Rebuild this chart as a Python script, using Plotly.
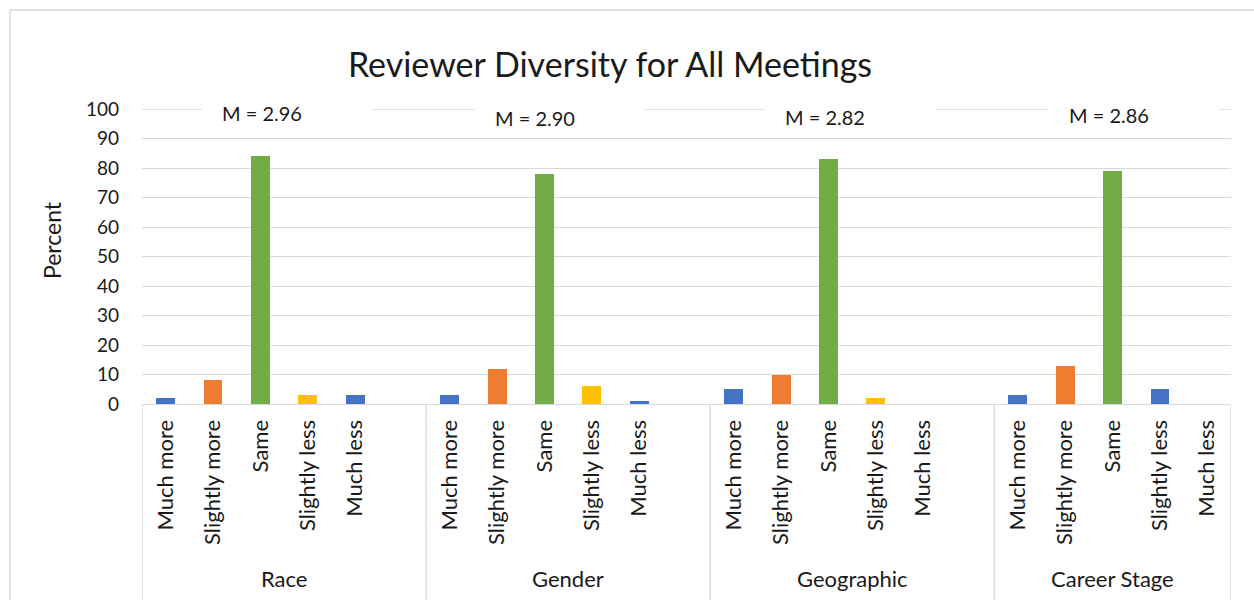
import plotly.graph_objects as go

groups = ["Race", "Gender", "Geographic", "Career Stage"]
responses = ["Much more", "Slightly more", "Same", "Slightly less", "Much less"]
race = [2, 8, 84, 3, 3]
gender = [3, 12, 78, 6, 1]
geographic = [5, 10, 83, 2, 0]
career = [3, 13, 79, 5, 0]
means = ["2.96", "2.90", "2.82", "2.86"]

series = [race, gender, geographic, career]

# style
BLUE, ORANGE, GREEN, YELLOW = "#4472C4", "#ED7D31", "#70AD47", "#FFC000"
group_colors = [
    [BLUE, ORANGE, GREEN, YELLOW, BLUE],
    [BLUE, ORANGE, GREEN, YELLOW, BLUE],
    [BLUE, ORANGE, GREEN, YELLOW, BLUE],
    [BLUE, ORANGE, GREEN, BLUE, BLUE],
]
FONT = "Lato, 'Open Sans', sans-serif"
TXT = "#1a1a1a"
GRID = "#D9D9D9"
SLOT = len(responses) + 1  # one blank slot between groups

xs, ys, cs, labels = [], [], [], []
for g, vals in enumerate(series):
    for i, v in enumerate(vals):
        xs.append(g * SLOT + i)
        ys.append(v)
        cs.append(group_colors[g][i])
        labels.append(responses[i])

n_last = (len(groups) - 1) * SLOT + len(responses)
x_min, x_max = -0.5, n_last - 0.5

fig = go.Figure()
fig.add_trace(go.Bar(x=xs, y=ys, marker=dict(color=cs, line=dict(width=0)), width=0.4,
                     hoverinfo="x+y"))

shapes = []
annotations = []
# group separators and labels
bounds = [x_min] + [g * SLOT + len(responses) - 0.5 + 1 for g in range(len(groups) - 1)] + [x_max]
for b in bounds:
    shapes.append(dict(type="line", xref="x", yref="paper", x0=b, x1=b, y0=0, y1=-0.72,
                       line=dict(color=GRID, width=1.3)))
for g, name in enumerate(groups):
    c = (bounds[g] + bounds[g + 1]) / 2
    annotations.append(dict(text=name, xref="x", yref="paper", x=c, y=-0.59,
                            showarrow=False, font=dict(family=FONT, size=22, color=TXT),
                            xanchor="center", yanchor="middle"))

# chart frame
shapes.append(dict(type="rect", xref="paper", yref="paper", x0=-0.1212, x1=1.3, y0=1.3356, y1=-1.2,
                   line=dict(color=GRID, width=1.5), fillcolor="rgba(0,0,0,0)", layer="above"))

# top gridline at 100 (drawn explicitly so it shows at the plot edge)
shapes.append(dict(type="line", xref="paper", yref="y", x0=0, x1=1, y0=100, y1=100,
                   line=dict(color=GRID, width=1.3), layer="below"))

# mean text boxes
box_left_px = [202, 475, 765, 1049]
text_y_px = [113, 118, 117, 115]
PL, PW, PT, PH = 142, 1089, 109, 295
for k, m in enumerate(means):
    x0 = (box_left_px[k] - PL) / PW
    x1 = (box_left_px[k] + 170 - PL) / PW
    yc = (PT + PH - text_y_px[k]) / PH
    shapes.append(dict(type="rect", xref="paper", yref="paper", x0=x0, x1=x1,
                       y0=yc - 12 / PH, y1=yc + 12 / PH, fillcolor="white",
                       line=dict(width=0), layer="above"))
    annotations.append(dict(text="M = " + m, xref="paper", yref="paper",
                            x=(box_left_px[k] + 18 - PL) / PW, y=yc, showarrow=False,
                            xanchor="left", yanchor="middle",
                            font=dict(family=FONT, size=20, color=TXT)))

# y-axis title
annotations.append(dict(text="Percent", xref="paper", yref="paper", x=(52 - PL) / PW,
                        y=(PT + PH - 240) / PH, showarrow=False, textangle=-90,
                        xanchor="center", yanchor="middle",
                        font=dict(family=FONT, size=23, color=TXT)))

fig.update_layout(
    width=1254, height=600,
    margin=dict(l=PL, r=1254 - PL - PW, t=PT, b=600 - PT - PH),
    paper_bgcolor="white", plot_bgcolor="white",
    title=dict(text="Reviewer Diversity for All Meetings", x=610 / 1254, xanchor="center",
               y=1 - 65 / 600, yanchor="middle",
               font=dict(family=FONT, size=34, color=TXT)),
    showlegend=False,
    bargap=0,
    shapes=shapes,
    annotations=annotations,
    xaxis=dict(range=[x_min, x_max], tickmode="array", tickvals=xs, ticktext=labels,
               tickangle=-90, showgrid=False, zeroline=False, showline=True,
               linecolor=GRID, linewidth=1.3, ticks="", ticklabelstandoff=6,
               tickfont=dict(family=FONT, size=22, color=TXT)),
    yaxis=dict(range=[0, 100], dtick=10, tick0=0, showgrid=True, gridcolor=GRID, gridwidth=1.3,
               zeroline=False, showline=False, ticks="", ticklabelstandoff=22,
               tickfont=dict(family=FONT, size=19, color=TXT)),
)

fig.write_html("out.html", config={"displayModeBar": False},
               post_script="document.body.style.margin='0px';")
